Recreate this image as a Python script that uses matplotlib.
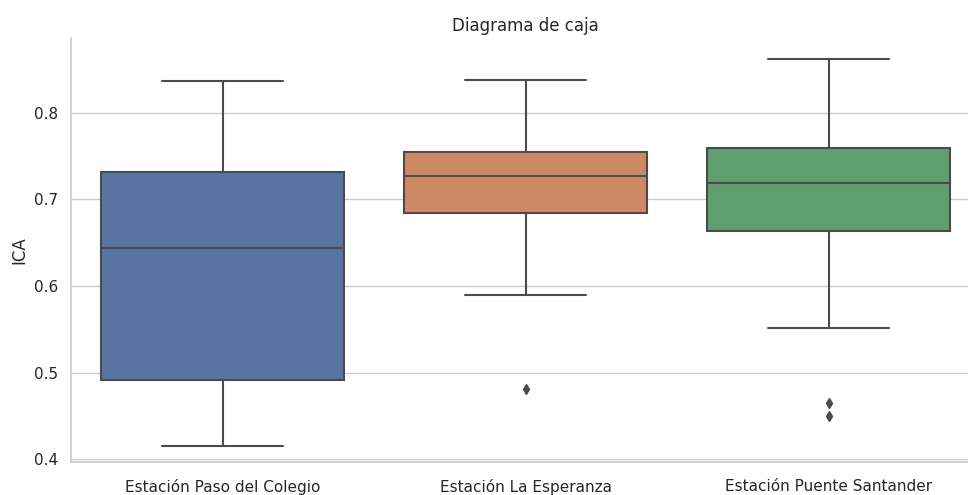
import matplotlib
matplotlib.use("Agg")
import matplotlib.pyplot as plt
import seaborn as sns

# resumen de cada estación (cuartiles, bigotes y valores atípicos del ICA)
estaciones = ["Estación Paso del Colegio", "Estación La Esperanza", "Estación Puente Santander"]
mediana = [0.644, 0.727, 0.719]
q1 = [0.492, 0.684, 0.663]
q3 = [0.732, 0.754, 0.759]
bigote_inf = [0.416, 0.590, 0.552]
bigote_sup = [0.836, 0.838, 0.862]
atipicos = [[], [0.481], [0.465, 0.450]]

sns.set_theme(style="whitegrid")
plt.rcParams["font.family"] = ["DejaVu Sans"]

# colores "deep" desaturados como en seaborn
colores = [sns.desaturate(c, 0.75) for c in sns.color_palette("deep", 3)]
gris = (0.296, 0.296, 0.296)

stats = []
for i, nombre in enumerate(estaciones):
    stats.append({
        "label": nombre,
        "med": mediana[i],
        "q1": q1[i],
        "q3": q3[i],
        "whislo": bigote_inf[i],
        "whishi": bigote_sup[i],
        "fliers": atipicos[i],
    })

fig = plt.figure(figsize=(9.68, 4.95), dpi=100)
ax = fig.add_axes([71 / 968, 1 - 462 / 495, (980 - 71) / 968, (462 - 38) / 495])

lw = 1.5
bp = ax.bxp(
    stats, positions=range(len(stats)), widths=0.8, patch_artist=True,
    boxprops=dict(edgecolor=gris, linewidth=lw),
    medianprops=dict(color=gris, linewidth=lw),
    whiskerprops=dict(color=gris, linewidth=lw),
    capprops=dict(color=gris, linewidth=lw),
    flierprops=dict(marker="d", markerfacecolor=gris, markeredgecolor=gris,
                    markersize=5, linestyle="none"),
)
for caja, color in zip(bp["boxes"], colores):
    caja.set_facecolor(color)

ax.set_xlim(-0.5, 2.5)
ax.set_ylim(0.397, 0.886)
ax.set_yticks([0.4, 0.5, 0.6, 0.7, 0.8])
ax.set_xticks(range(len(estaciones)))
ax.set_xticklabels(estaciones)
ax.xaxis.grid(False)
ax.set_axisbelow(True)

ax.set_title("Diagrama de caja", fontsize=12, pad=5)
ax.set_ylabel("ICA", fontsize=12)
ax.tick_params(axis="both", labelsize=11)
ax.tick_params(axis="x", pad=6)
sns.despine(ax=ax)

fig.savefig("out.png", dpi=100)
